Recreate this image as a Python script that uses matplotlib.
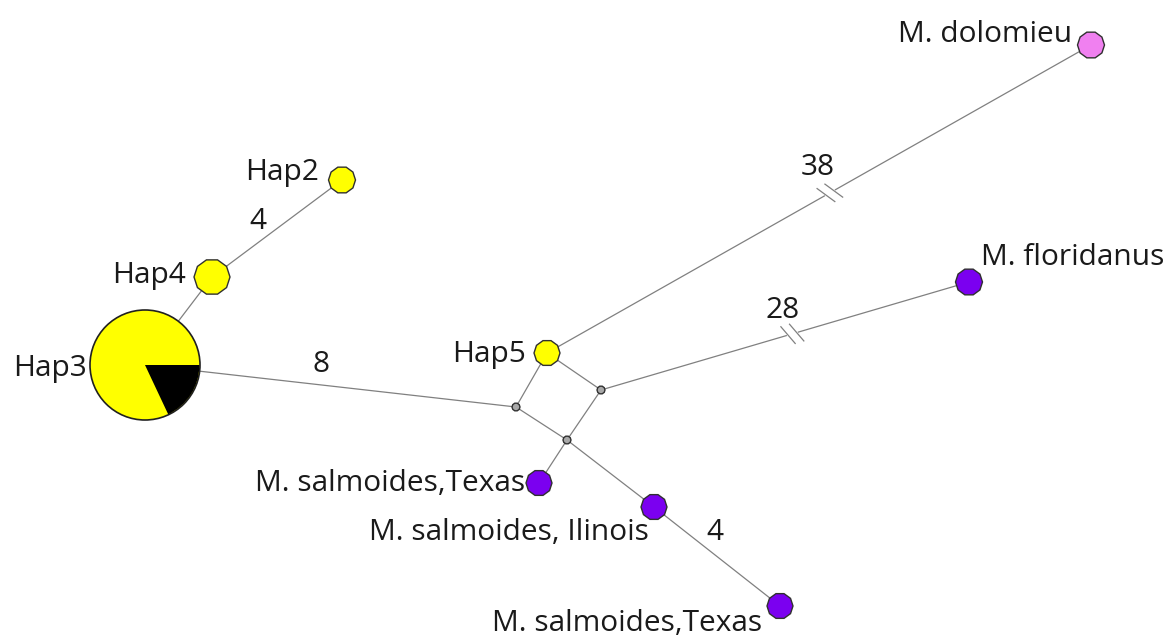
import numpy as np
import matplotlib.pyplot as plt
from matplotlib.patches import Circle, Wedge, RegularPolygon

# ---- data ----
node_names = ["Hap3", "Hap4", "Hap2", "Hap5", "mv1", "mv2", "mv3",
              "M. salmoides,Texas", "M. salmoides, Ilinois", "M. salmoides,Texas ",
              "M. floridanus", "M. dolomieu"]
node_x = [145, 212, 342, 547, 516, 601, 567, 539, 654, 780, 969, 1091]
node_y = [365, 277, 180, 353, 407, 390, 440, 483, 507, 606, 282, 45]
node_r = [55, 18, 13.5, 13, 4, 4, 4, 13, 13, 13, 13.5, 13.5]
node_color = ["#FFFF00", "#FFFF00", "#FFFF00", "#FFFF00", "#A8A8A8", "#A8A8A8", "#A8A8A8",
              "#7B00F0", "#7B00F0", "#7B00F0", "#7B00F0", "#F080F0"]
hap3_fractions = [0.82, 0.18]
hap3_colors = ["#FFFF00", "#000000"]

edges = [(0, 1), (1, 2), (0, 4), (4, 3), (4, 6), (3, 5), (5, 6),
         (6, 7), (6, 8), (8, 9), (5, 10), (3, 11)]
broken_edges = {10: 0.52, 11: 0.52}   # node index -> position of break along edge

edge_labels = ["4", "8", "38", "28", "4"]
edge_label_x = [258, 321, 818, 783, 715]
edge_label_y = [229, 372, 175, 318, 540]

label_text = ["Hap3", "Hap4", "Hap2", "Hap5", "M. salmoides,Texas", "M. salmoides, Ilinois",
              "M. salmoides,Texas", "M. floridanus", "M. dolomieu"]
label_x = [87, 186, 319, 526, 525, 649, 762, 981, 1072]
label_y = [376, 283, 180, 362, 491, 540, 631, 265, 42]
label_ha = ["right", "right", "right", "right", "right", "right", "right", "left", "right"]

# ---- drawing ----
fig = plt.figure(figsize=(11.73, 6.37), dpi=100)
ax = fig.add_axes([0, 0, 1, 1])
ax.set_xlim(0, 1173)
ax.set_ylim(637, 0)
ax.set_aspect("equal")
ax.axis("off")

for a, b in edges:
    x0, y0, x1, y1 = node_x[a], node_y[a], node_x[b], node_y[b]
    ax.plot([x0, x1], [y0, y1], color="#808080", lw=0.9, zorder=1)
    if b in broken_edges:
        t = broken_edges[b]
        mx, my = x0 + t * (x1 - x0), y0 + t * (y1 - y0)
        dx, dy = x1 - x0, y1 - y0
        L = np.hypot(dx, dy)
        ux, uy = dx / L, dy / L
        px, py = -uy, ux
        if py < 0:
            px, py = -px, -py
        vx, vy = px + ux * 0.45, py + uy * 0.45
        n = np.hypot(vx, vy)
        vx, vy = vx / n, vy / n
        ax.plot([mx - ux * 4, mx + ux * 4], [my - uy * 4, my + uy * 4],
                color="white", lw=2.5, zorder=1.5)
        for off in (-4.5, 4.5):
            cx, cy = mx + ux * off, my + uy * off
            ax.plot([cx - vx * 11, cx + vx * 11], [cy - vy * 11, cy + vy * 11],
                    color="#808080", lw=0.9, zorder=2)

for i in range(len(node_names)):
    if i == 0:
        ax.add_patch(Circle((node_x[i], node_y[i]), node_r[i], facecolor=hap3_colors[0],
                            edgecolor="#202020", lw=1.2, zorder=3))
        ax.add_patch(Wedge((node_x[i], node_y[i]), node_r[i] - 0.6, 0, hap3_fractions[1] * 360,
                           facecolor=hap3_colors[1], edgecolor="none", zorder=4))
    else:
        ax.add_patch(RegularPolygon((node_x[i], node_y[i]), numVertices=10, radius=node_r[i],
                                    orientation=np.pi / 10, facecolor=node_color[i],
                                    edgecolor="#303030", lw=1.0, zorder=3))

font = dict(family="Open Sans", fontsize=21.5, color="#1a1a1a")
for t, x, y, ha in zip(label_text, label_x, label_y, label_ha):
    ax.text(x, y, t, ha=ha, va="baseline", zorder=5, **font)
for t, x, y in zip(edge_labels, edge_label_x, edge_label_y):
    ax.text(x, y, t, ha="center", va="baseline", zorder=5, **font)

fig.savefig("out.png", dpi=100, facecolor="white")
